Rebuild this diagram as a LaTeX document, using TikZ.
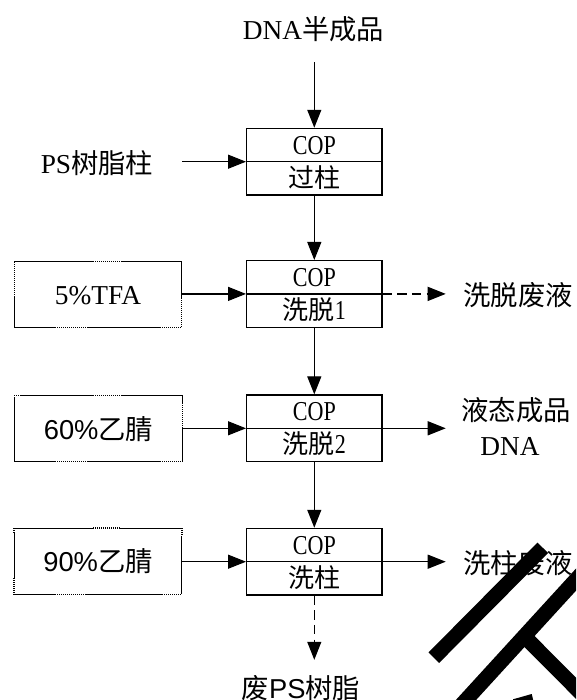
\documentclass[tikz,border=0pt]{standalone}
\usepackage{graphicx}
\usepackage{fontspec}
\setmainfont{Liberation Serif}
\newfontfamily\cjk{Noto Sans CJK SC}
\newfontfamily\lsans{Liberation Sans}
\usetikzlibrary{arrows.meta,calc}
\newcommand{\narrowtxt}[1]{\scalebox{0.85}[1.05]{#1}}
\begin{document}
\begin{tikzpicture}[x=0.75pt,y=-0.75pt,
  lbl/.style={inner sep=0pt, font=\fontsize{20.5pt}{24pt}\selectfont, text height=18pt, text depth=2.5pt},
  btxt/.style={inner sep=0pt, font=\fontsize{19.5pt}{23pt}\selectfont, text height=17.2pt, text depth=2.3pt},
  proc/.style={draw, line width=0.9pt, minimum width=101.5pt, minimum height=50pt, inner sep=0pt},
  feed/.style={draw, line width=0.9pt, minimum width=125.5pt, minimum height=49.5pt, inner sep=0pt,
    font=\fontsize{20.5pt}{24pt}\selectfont, text height=18pt, text depth=2.5pt},
  arr/.style={line width=0.9pt, -{Triangle[length=13.5pt,width=10.5pt]}},
  darr/.style={arr, dash pattern=on 7pt off 4pt},
  wipe/.style={white, line width=1.8pt},
  dotseg/.style={line width=0.9pt, dash pattern=on 0.75pt off 0.75pt},
  wmk/.style={line width=11.2pt}
]
\useasboundingbox (0,0) rectangle (576,700);

% process boxes
\node[proc] (b1) at (314.3,161.7) {};
\node[proc] (b2) at (314.3,293.9) {};
\node[proc] (b3) at (314.3,428.3) {};
\node[proc] (b4) at (314.3,561.7) {};
\foreach \b in {b1,b2,b3,b4} \draw[line width=0.9pt] (\b.west) -- (\b.east);

\node[btxt, anchor=base] (c1) at ($(b1.center)+(0,-7.5)$) {\narrowtxt{COP}};
\node[btxt] (s1) at ($(b1.center)+(0,15.5)$) {{\cjk 过柱}};
\node[btxt, anchor=base] (c2) at ($(b2.center)+(0,-7.5)$) {\narrowtxt{COP}};
\node[btxt] (s2) at ($(b2.center)+(0,15.5)$) {{\cjk 洗脱}\narrowtxt{1}};
\node[btxt, anchor=base] (c3) at ($(b3.center)+(0,-7.5)$) {\narrowtxt{COP}};
\node[btxt] (s3) at ($(b3.center)+(0,15.5)$) {{\cjk 洗脱}\narrowtxt{2}};
\node[btxt, anchor=base] (c4) at ($(b4.center)+(0,-7.5)$) {\narrowtxt{COP}};
\node[btxt] (s4) at ($(b4.center)+(0,15.5)$) {{\cjk 洗柱}};

% feed boxes
\node[feed] (t1) at (98,294.5) {5\%TFA};
\node[feed] (t2) at (98.5,428.7) {{\lsans 60\%}{\cjk 乙腈}};
\node[feed] (t3) at (98,561.3) {{\lsans 90\%}{\cjk 乙腈}};

% dotted parts of the feed box borders
\foreach \p/\q in {
  {(93,261.7)}/{(122,261.7)}, {(14.3,262)}/{(14.3,297)}, {(55,327.3)}/{(88,327.3)},
  {(160,327.3)}/{(181.7,327.3)}, {(181.7,298)}/{(181.7,327.3)},
  {(93,395.7)}/{(122,395.7)}, {(14.3,395.7)}/{(20,395.7)}, {(182.7,403)}/{(182.7,427)},
  {(55,461.7)}/{(88,461.7)}, {(160,461.7)}/{(182.7,461.7)},
  {(93,528)}/{(120,528)}, {(14,528)}/{(14,533)}, {(14,578)}/{(14,594.7)},
  {(182,528)}/{(182,536)}, {(55,594.7)}/{(85,594.7)}, {(162,594.7)}/{(182,594.7)}}
{
  \draw[wipe] \p -- \q;
  \draw[dotseg] \p -- \q;
}

% labels
\node[lbl] (dna) at (313.5,29) {DNA{\cjk 半成品}};
\node[lbl] (ps) at (97,163) {PS{\cjk 树脂柱}};
\node[lbl] (w1) at (518,295) {{\cjk 洗脱废液}};
\node[lbl] (p1) at (516,410) {{\cjk 液态成品}};
\node[lbl] (p2) at (510,445) {DNA};
\node[lbl] (w2) at (518,563) {{\cjk 洗柱废液}};
\node[lbl] (wps) at (301,688) {{\cjk 废}{\lsans PS}{\cjk 树脂}};

% connectors
\draw[arr, shorten <=14.5pt] (dna.south -| b1.north) -- (b1.north);
\draw[arr, shorten <=21.6pt] (b1.west -| ps.east) -- (b1.west);
\draw[arr] (b1.south) -- (b2.north);
\draw[arr] (b2.west -| t1.east) -- (b2.west);
\draw[darr, shorten >=13pt] (b2.east) -- (b2.east -| w1.west);
\draw[arr] (b2.south) -- (b3.north);
\draw[arr] (b3.west -| t2.east) -- (b3.west);
\draw[arr, shorten >=11.5pt] (b3.east) -- (b3.east -| p1.west);
\draw[arr] (b3.south) -- (b4.north);
\draw[arr] (b4.west -| t3.east) -- (b4.west);
\draw[arr, shorten >=13pt] (b4.east) -- (b4.east -| w2.west);
\draw[darr, shorten >=10.7pt] (b4.south) -- (b4.south |- wps.north);

% thick black strokes at lower right
\begin{scope}
  \clip (0,0) rectangle (576,700);
  \draw[wmk] (542.8,547.8) -- (433.8,657.7);
  \draw[wmk] (597.6,556) -- (444,724);
  \draw[wmk] (524.3,636.3) -- (600,712.3);
  \fill (513,700.5) -- (513,699.3) -- (531.7,694) -- (533.3,700.5) -- cycle;
\end{scope}
\end{tikzpicture}
\end{document}
